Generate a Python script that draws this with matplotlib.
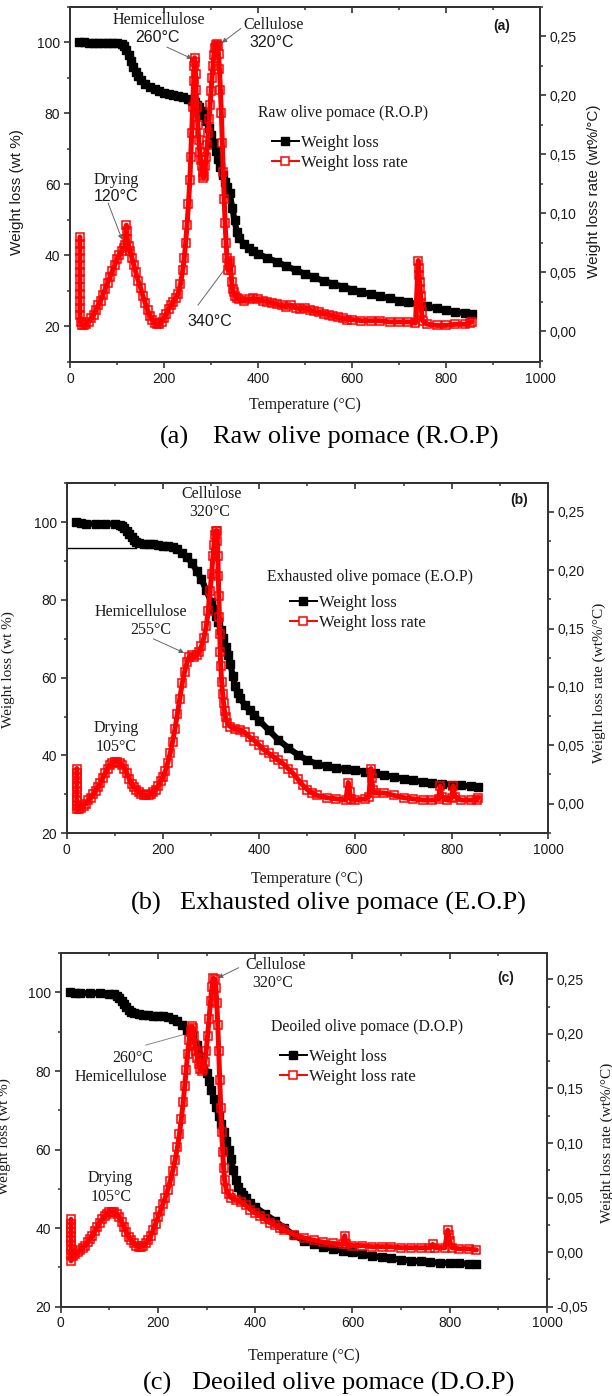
import matplotlib
matplotlib.use('Agg')
import matplotlib.pyplot as plt
from matplotlib.ticker import MultipleLocator, FuncFormatter
from matplotlib.lines import Line2D

SERIF = 'Liberation Serif'
SANS = 'Liberation Sans'
INK = '#1a1a1a'

# ---------------- Panel (a) : Raw olive pomace ----------------
a_T_w = [20, 30, 40, 50, 60, 70, 80, 90, 100, 110, 115, 120, 125, 130, 135, 140, 145, 150,
         160, 170, 180, 190, 200, 210, 220, 230, 240, 250, 260, 265, 270, 275, 280, 285, 290,
         295, 300, 305, 310, 315, 320, 325, 330, 335, 340, 345, 350, 355, 360, 370, 380, 390,
         400, 420, 440, 460, 480, 500, 520, 540, 560, 580, 600, 620, 640, 660, 680, 700, 720,
         740, 760, 780, 800, 820, 840, 855]
a_W = [100, 100, 99.9, 99.9, 99.8, 99.8, 99.8, 99.8, 99.8, 99.5, 99.0, 98.0, 96.5, 94.8, 93.2,
       91.8, 90.5, 89.5, 88.2, 87.4, 86.8, 86.3, 85.9, 85.6, 85.3, 85.0, 84.6, 84.1, 83.5, 83.1,
       82.5, 81.8, 80.8, 79.6, 78.0, 76.0, 73.8, 71.6, 69.4, 67.2, 65.0, 62.8, 60.8, 59.2, 57.5,
       53.5, 50.0, 46.5, 44.8, 43.3, 42.2, 41.2, 40.4, 39.3, 38.2, 37.0, 35.9, 34.8, 33.8, 32.8,
       32.0, 31.2, 30.4, 29.7, 29.1, 28.5, 27.9, 27.3, 26.8, 26.3, 25.7, 25.1, 24.6, 24.1, 23.8,
       23.5]
a_T_r = [21, 21, 21, 21, 21, 21, 21, 21, 21, 21, 21, 21, 23, 26, 30, 35, 40, 45, 50, 55, 60,
         65, 70, 75, 80, 85, 90, 95, 100, 105, 110, 115, 118, 120, 121, 122, 125, 128, 132, 136,
         140, 145, 150, 155, 160, 165, 170, 175, 180, 185, 190, 195, 200, 205, 210, 215, 220,
         225, 230, 235, 240, 243, 246, 249, 252, 255, 257, 259, 261, 263, 264, 265, 266, 267,
         268, 270, 272, 274, 276, 278, 280, 282, 284, 286, 288, 290, 292, 294, 296, 298, 300,
         302, 304, 306, 308, 310, 312, 314, 316, 318, 320, 322, 324, 326, 328, 330, 332, 334,
         336, 338, 340, 342, 344, 346, 348, 352, 356, 360, 370, 380, 390, 400, 410, 420, 430,
         440, 450, 460, 470, 480, 490, 500, 510, 520, 530, 540, 550, 560, 570, 580, 590, 600,
         620, 640, 660, 680, 700, 720, 735, 741, 742, 743, 744, 745, 746, 747, 748, 750, 760,
         780, 800, 820, 840, 850, 855]
a_R = [0.080, 0.074, 0.068, 0.062, 0.056, 0.050, 0.044, 0.038, 0.032, 0.026, 0.020, 0.014,
       0.008, 0.005, 0.005, 0.006, 0.008, 0.011, 0.014, 0.018, 0.022, 0.026, 0.031, 0.036,
       0.041, 0.046, 0.051, 0.056, 0.061, 0.065, 0.068, 0.071, 0.073, 0.090, 0.085, 0.078,
       0.072, 0.068, 0.062, 0.056, 0.050, 0.043, 0.037, 0.030, 0.024, 0.018, 0.013, 0.010,
       0.007, 0.006, 0.006, 0.008, 0.011, 0.015, 0.019, 0.022, 0.025, 0.028, 0.032, 0.040,
       0.052, 0.062, 0.075, 0.090, 0.108, 0.128, 0.148, 0.168, 0.190, 0.212, 0.225, 0.232,
       0.228, 0.218, 0.205, 0.190, 0.175, 0.162, 0.152, 0.145, 0.140, 0.135, 0.130, 0.132,
       0.140, 0.148, 0.158, 0.168, 0.180, 0.192, 0.204, 0.215, 0.225, 0.234, 0.240, 0.243,
       0.244, 0.242, 0.235, 0.222, 0.205, 0.185, 0.160, 0.135, 0.112, 0.092, 0.075, 0.062,
       0.052, 0.058, 0.060, 0.052, 0.042, 0.036, 0.033, 0.030, 0.028, 0.027, 0.026, 0.027,
       0.028, 0.027, 0.026, 0.025, 0.024, 0.023, 0.022, 0.021, 0.022, 0.020, 0.019, 0.020,
       0.018, 0.017, 0.016, 0.015, 0.014, 0.013, 0.012, 0.011, 0.010, 0.010, 0.009, 0.009,
       0.009, 0.008, 0.008, 0.008, 0.007, 0.060, 0.054, 0.048, 0.042, 0.036, 0.030, 0.024,
       0.016, 0.009, 0.006, 0.005, 0.005, 0.006, 0.006, 0.007, 0.008]

# ---------------- Panel (b) : Exhausted olive pomace ----------------
b_T_w = [20, 30, 40, 60, 80, 100, 110, 115, 120, 125, 130, 135, 140, 145, 150, 160, 170, 180,
         190, 200, 210, 220, 230, 240, 250, 260, 270, 280, 290, 300, 305, 310, 315, 320, 325,
         330, 335, 340, 345, 350, 355, 360, 370, 380, 390, 400, 420, 440, 460, 480, 500, 520,
         540, 560, 580, 600, 620, 640, 660, 680, 700, 720, 740, 760, 780, 800, 820, 840, 855]
b_W = [100, 99.8, 99.6, 99.6, 99.6, 99.6, 99.3, 99.0, 98.5, 97.8, 97.0, 96.2, 95.5, 95.0,
       94.7, 94.5, 94.4, 94.3, 94.2, 94.0, 93.8, 93.5, 93.0, 92.2, 91.0, 89.5, 87.5, 85.3,
       82.5, 79.5, 77.8, 76.0, 74.3, 72.4, 70.3, 68.0, 65.8, 63.5, 60.5, 57.8, 56.0, 54.8,
       53.0, 51.6, 50.3, 49.0, 46.5, 44.0, 42.0, 40.2, 38.8, 37.8, 37.2, 36.8, 36.5, 36.2,
       35.8, 35.4, 35.0, 34.5, 34.0, 33.6, 33.2, 32.9, 32.7, 32.5, 32.3, 32.1, 32.0]
b_base_T = [0, 145]
b_base_W = [93.4, 93.4]
b_T_r = [21, 21, 21, 21, 21, 21, 21, 21, 21, 21, 25, 30, 35, 40, 45, 50, 55, 60, 65, 70, 75,
         80, 85, 90, 95, 100, 105, 110, 115, 120, 125, 130, 135, 140, 145, 150, 155, 160, 165,
         170, 175, 180, 185, 190, 195, 200, 205, 210, 215, 220, 225, 230, 235, 240, 245, 250,
         255, 260, 265, 270, 275, 280, 285, 290, 294, 298, 301, 304, 306, 308, 310, 312, 313,
         314, 315, 316, 317, 318, 319, 320, 322, 324, 326, 328, 330, 334, 340, 350, 360, 370,
         380, 390, 400, 410, 420, 430, 440, 450, 460, 470, 480, 490, 500, 510, 520, 540, 560,
         580, 585, 588, 590, 600, 620, 628, 632, 634, 636, 640, 660, 680, 700, 720, 740, 760,
         773, 776, 779, 790, 800, 803, 806, 820, 840, 852, 855]
b_R = [0.030, 0.026, 0.022, 0.018, 0.014, 0.010, 0.006, 0.002, -0.002, -0.005, -0.005,
       -0.004, -0.002, 0.000, 0.003, 0.005, 0.008, 0.011, 0.014, 0.018, 0.022, 0.026, 0.030,
       0.033, 0.035, 0.036, 0.036, 0.035, 0.033, 0.030, 0.026, 0.021, 0.017, 0.014, 0.012,
       0.010, 0.008, 0.007, 0.007, 0.007, 0.008, 0.010, 0.012, 0.015, 0.019, 0.023, 0.028,
       0.035, 0.043, 0.053, 0.064, 0.077, 0.090, 0.103, 0.113, 0.121, 0.126, 0.127, 0.126,
       0.127, 0.130, 0.135, 0.142, 0.152, 0.165, 0.182, 0.197, 0.212, 0.222, 0.230, 0.234,
       0.234, 0.225, 0.212, 0.195, 0.178, 0.160, 0.145, 0.130, 0.118, 0.104, 0.094, 0.086,
       0.079, 0.074, 0.069, 0.066, 0.064, 0.063, 0.061, 0.057, 0.054, 0.050, 0.046, 0.043,
       0.040, 0.037, 0.034, 0.030, 0.026, 0.021, 0.016, 0.012, 0.009, 0.007, 0.005, 0.004,
       0.003, 0.018, 0.010, 0.004, 0.003, 0.004, 0.006, 0.030, 0.022, 0.012, 0.009, 0.009,
       0.007, 0.005, 0.004, 0.003, 0.003, 0.004, 0.015, 0.006, 0.003, 0.005, 0.015, 0.006,
       0.003, 0.003, 0.003, 0.005]

# ---------------- Panel (c) : Deoiled olive pomace ----------------
c_T_w = [20, 30, 40, 60, 80, 100, 110, 115, 120, 125, 130, 135, 140, 145, 150, 160, 170, 180,
         190, 200, 210, 220, 230, 240, 250, 260, 270, 280, 290, 300, 305, 310, 315, 320, 325,
         330, 335, 340, 345, 350, 355, 360, 365, 370, 375, 380, 390, 400, 420, 440, 460, 480,
         500, 520, 540, 560, 580, 600, 620, 640, 660, 680, 700, 720, 740, 760, 780, 800, 820,
         840, 855]
c_W = [100, 99.9, 99.8, 99.8, 99.8, 99.7, 99.6, 99.2, 98.6, 97.8, 97.0, 96.2, 95.5, 95.0,
       94.7, 94.4, 94.3, 94.2, 94.1, 94.0, 93.9, 93.7, 93.3, 92.7, 91.8, 90.5, 88.8, 86.6,
       83.5, 79.6, 77.4, 75.2, 73.0, 70.8, 68.6, 66.5, 64.4, 62.3, 60.0, 57.5, 54.8, 52.2,
       50.5, 49.2, 48.4, 47.6, 46.4, 45.4, 43.6, 41.9, 40.0, 38.2, 36.8, 35.9, 35.2, 34.7,
       34.2, 33.8, 33.3, 32.9, 32.6, 32.3, 32.0, 31.7, 31.5, 31.3, 31.2, 31.1, 31.0, 30.9,
       30.9]
c_T_r = [21, 21, 21, 21, 21, 21, 21, 21, 21, 21, 25, 30, 35, 40, 45, 50, 55, 60, 65, 70, 75,
         80, 85, 90, 95, 100, 105, 110, 115, 120, 125, 130, 135, 140, 145, 150, 155, 160, 165,
         170, 175, 180, 185, 190, 195, 200, 205, 210, 215, 220, 225, 230, 235, 240, 244, 248,
         252, 255, 258, 261, 264, 267, 270, 272, 274, 276, 278, 281, 284, 287, 290, 293, 296,
         299, 302, 305, 308, 311, 314, 317, 319, 321, 323, 325, 327, 329, 331, 333, 335, 337,
         340, 345, 350, 360, 370, 380, 390, 400, 410, 420, 430, 440, 450, 460, 480, 500, 520,
         540, 560, 580, 584, 587, 600, 620, 640, 660, 680, 700, 720, 740, 760, 765, 770, 790,
         796, 798, 800, 805, 820, 840, 855]
c_R = [0.030, 0.026, 0.022, 0.018, 0.014, 0.010, 0.006, 0.002, -0.003, -0.008, -0.004,
       -0.002, 0.000, 0.002, 0.004, 0.006, 0.009, 0.012, 0.015, 0.019, 0.023, 0.027, 0.030,
       0.033, 0.035, 0.037, 0.037, 0.037, 0.035, 0.032, 0.028, 0.023, 0.018, 0.014, 0.011,
       0.008, 0.006, 0.005, 0.005, 0.006, 0.008, 0.011, 0.015, 0.020, 0.026, 0.032, 0.038,
       0.044, 0.050, 0.057, 0.065, 0.074, 0.084, 0.096, 0.108, 0.122, 0.138, 0.152, 0.167,
       0.182, 0.194, 0.203, 0.207, 0.205, 0.198, 0.190, 0.184, 0.178, 0.172, 0.168, 0.166,
       0.168, 0.174, 0.184, 0.198, 0.214, 0.230, 0.243, 0.251, 0.250, 0.242, 0.228, 0.208,
       0.184, 0.158, 0.132, 0.110, 0.092, 0.077, 0.066, 0.058, 0.053, 0.050, 0.048, 0.046,
       0.043, 0.039, 0.036, 0.033, 0.030, 0.027, 0.025, 0.022, 0.020, 0.016, 0.013, 0.011,
       0.009, 0.008, 0.007, 0.015, 0.007, 0.006, 0.006, 0.005, 0.005, 0.005, 0.004, 0.004,
       0.004, 0.004, 0.007, 0.004, 0.004, 0.020, 0.016, 0.010, 0.004, 0.003, 0.003, 0.002]

x_major = [0, 200, 400, 600, 800, 1000]
series_labels = ['Weight loss', 'Weight loss rate']


def comma(v, pos):
    s = f"{v:.2f}".replace('.', ',')
    return '0,00' if s == '-0,00' else s


fig = plt.figure(figsize=(6.12, 13.96), dpi=100)
FS = 11.5


def panel(rect, Tw, W, Tr, R, ylimL, ylimR, yticksL, yticksR, tag, tag_xy,
          title, title_xy, leg_xy, label_font, xlab_y, ylab_l, ylab_r):
    ax = fig.add_axes(rect)
    ax2 = ax.twinx()
    ax.set_zorder(2)
    ax.patch.set_visible(False)
    ax2.set_zorder(1)

    ax.plot(Tw, W, color='black', lw=4.4, marker='s', ms=5.2, mfc='black', mec='black',
            zorder=3, solid_joinstyle='round', solid_capstyle='round')
    ax.set_xlim(0, 1000)
    ax.set_ylim(*ylimL)
    ax2.set_ylim(*ylimR)
    red = fig.add_axes(rect, sharex=ax)
    red.set_ylim(*ylimR)
    red.patch.set_visible(False)
    red.axis('off')
    red.set_zorder(3)
    red.plot(Tr, R, color='#ff0000', lw=3.6, marker='s', ms=5.4, mfc='none', mec='#ff0000',
             mew=1.1, zorder=4, solid_joinstyle='round', solid_capstyle='round')

    for a in (ax, ax2):
        for s in a.spines.values():
            s.set_color('#333333')
            s.set_linewidth(1.3)
    ax.set_xticks(x_major)
    ax.xaxis.set_minor_locator(MultipleLocator(100))
    ax.set_yticks(yticksL)
    ax.yaxis.set_minor_locator(MultipleLocator(10))
    ax2.set_yticks(yticksR)
    ax2.yaxis.set_minor_locator(MultipleLocator(0.025))
    ax2.yaxis.set_major_formatter(FuncFormatter(comma))
    ax.tick_params(axis='both', which='major', direction='out', length=4.5, width=1.2,
                   color='#333333', labelsize=10, labelcolor=INK, pad=2.5)
    ax.tick_params(axis='both', which='minor', direction='out', length=2.5, width=1.1,
                   color='#333333')
    ax2.tick_params(axis='y', which='major', direction='out', length=4.5, width=1.2,
                    color='#333333', labelsize=10, labelcolor=INK, pad=2.5)
    ax2.tick_params(axis='y', which='minor', direction='out', length=2.5, width=1.1,
                    color='#333333')
    top = ax.secondary_xaxis('top')
    top.set_xticks(x_major)
    top.xaxis.set_minor_locator(MultipleLocator(100))
    top.tick_params(which='major', direction='in', length=4.5, width=1.2, color='#333333',
                    labeltop=False)
    top.tick_params(which='minor', direction='in', length=2.5, width=1.1, color='#333333')
    top.spines['top'].set_color('#333333')
    top.spines['top'].set_linewidth(1.3)
    for lab in ax.get_xticklabels() + ax.get_yticklabels() + ax2.get_yticklabels():
        lab.set_fontfamily(SANS)

    ax.set_xlabel('Temperature (°C)', fontfamily=SERIF, fontsize=11.5, color=INK)
    ax.xaxis.set_label_coords(0.5, xlab_y)
    ax.xaxis.label.set_verticalalignment('top')
    ax.set_ylabel('Weight loss (wt %)', fontfamily=label_font, fontsize=11, color=INK)
    ax.yaxis.set_label_coords(*ylab_l)
    ax2.set_ylabel('Weight loss rate (wt%/°C)', fontfamily=label_font, fontsize=11,
                   color=INK)
    ax2.yaxis.set_label_coords(*ylab_r)

    ax.text(*tag_xy, tag, fontfamily=SANS, fontweight='bold', fontsize=10, color=INK,
            ha='center', va='center', zorder=6)
    ax.text(*title_xy, title, fontfamily=SERIF, fontsize=11.3, color=INK, ha='center',
            va='center', zorder=6)
    hb = Line2D([], [], color='black', lw=1.4, marker='s', ms=5.5, mfc='black', mec='black')
    hr = Line2D([], [], color='#ff0000', lw=1.4, marker='s', ms=5.5, mfc='white',
                mec='#ff0000', mew=1.1)
    leg = ax.legend([hb, hr], series_labels, loc='center left', bbox_to_anchor=leg_xy,
                    bbox_transform=ax.transData, frameon=False, borderpad=0,
                    borderaxespad=0, handlelength=1.6, handletextpad=0.15,
                    labelspacing=0.25, numpoints=1,
                    prop={'family': SERIF, 'size': 12})
    for t in leg.get_texts():
        t.set_color(INK)
    leg.set_zorder(7)
    return ax


def note(ax, x, y, s, family=SERIF):
    ax.text(x, y, s, fontfamily=family, fontsize=FS, ha='center', va='center',
            color=INK, linespacing=1.0, zorder=6)


arrow_kw = dict(arrowstyle='-|>', color='#666666', lw=0.7, mutation_scale=7,
                shrinkA=0, shrinkB=0)

# ---- (a)
ax_a = panel([0.1144, 0.7407, 0.768, 0.2543], a_T_w, a_W, a_T_r, a_R, (10, 110),
             (-0.026, 0.275), [20, 40, 60, 80, 100], [0, 0.05, 0.10, 0.15, 0.20, 0.25],
             '(a)', (919, 104.6), 'Raw olive pomace (R.O.P)', (581, 80.1), (430, 68.9),
             SANS, -0.10, (-0.098, 0.48), (1.10, 0.48))
note(ax_a, 189, 106.3, 'Hemicellulose')
note(ax_a, 187, 101.5, '260°C', SANS)
ax_a.annotate('', xy=(260, 95.4), xytext=(206, 98.7), arrowprops=arrow_kw, zorder=6)
note(ax_a, 434, 105.0, 'Cellulose')
note(ax_a, 430, 99.9, '320°C', SANS)
ax_a.annotate('', xy=(323, 99.9), xytext=(364, 104), arrowprops=arrow_kw, zorder=6)
note(ax_a, 98, 61.3, 'Drying')
note(ax_a, 98, 56.5, '120°C', SANS)
ax_a.annotate('', xy=(111, 44.4), xytext=(81, 54.8), arrowprops=arrow_kw, zorder=6)
note(ax_a, 298, 21.3, '340°C', SANS)
ax_a.annotate('', xy=(339, 37.9), xytext=(272, 26.0), arrowprops=arrow_kw, zorder=6)

# ---- (b)
ax_b = panel([0.109, 0.4031, 0.7864, 0.2507], b_T_w, b_W, b_T_r, b_R, (20, 110),
             (-0.0255, 0.2745), [20, 40, 60, 80, 100], [0, 0.05, 0.10, 0.15, 0.20, 0.25],
             '(b)', (941, 105.7), 'Exhausted olive pomace (E.O.P)', (630, 85.9),
             (464, 76.7), SERIF, -0.108, (-0.107, 0.467), (1.093, 0.43))
ax_b.plot(b_base_T, b_base_W, color='black', lw=1.0, zorder=2)
note(ax_b, 302, 107.2, 'Cellulose')
note(ax_b, 298, 102.6, '320°C')
note(ax_b, 155, 76.9, 'Hemicellulose')
note(ax_b, 175, 72.3, '255°C')
ax_b.annotate('', xy=(244, 66.4), xytext=(180, 70.0), arrowprops=arrow_kw, zorder=6)
note(ax_b, 102, 47.0, 'Drying')
note(ax_b, 102, 42.2, '105°C')

# ---- (c)
ax_c = panel([0.0993, 0.064, 0.7944, 0.2532], c_T_w, c_W, c_T_r, c_R, (20, 110),
             (-0.05, 0.274), [20, 40, 60, 80, 100],
             [-0.05, 0, 0.05, 0.10, 0.15, 0.20, 0.25],
             '(c)', (916, 103.7), 'Deoiled olive pomace (D.O.P)', (630, 91.3),
             (451, 81.0), SERIF, -0.117, (-0.102, 0.48), (1.111, 0.463))
note(ax_c, 442, 107.0, 'Cellulose')
note(ax_c, 436, 102.4, '320°C')
ax_c.annotate('', xy=(323, 103.7), xytext=(366, 106.3), arrowprops=arrow_kw, zorder=6)
note(ax_c, 148, 83.3, '260°C')
note(ax_c, 124, 78.5, 'Hemicellulose')
ax_c.annotate('', xy=(256, 89.4), xytext=(169, 86.4),
              arrowprops=dict(arrowstyle='-', color='#888888', lw=0.7), zorder=6)
note(ax_c, 101, 52.8, 'Drying')
note(ax_c, 103, 48.0, '105°C')

# captions
CAP = 19
for tag, txt, xt, xs, yc in [('(a)', 'Raw olive pomace (R.O.P)', 160, 213, 437),
                              ('(b)', 'Exhausted olive pomace (E.O.P)', 131, 180, 903),
                              ('(c)', 'Deoiled olive pomace (D.O.P)', 143, 192, 1383)]:
    fig.text(xt / 612, 1 - yc / 1396, tag, fontfamily=SERIF, fontsize=CAP, ha='left',
             va='center', color='black')
    fig.text(xs / 612, 1 - yc / 1396, txt, fontfamily=SERIF, fontsize=CAP, ha='left',
             va='center', color='black')

fig.savefig('out.png', dpi=100)
